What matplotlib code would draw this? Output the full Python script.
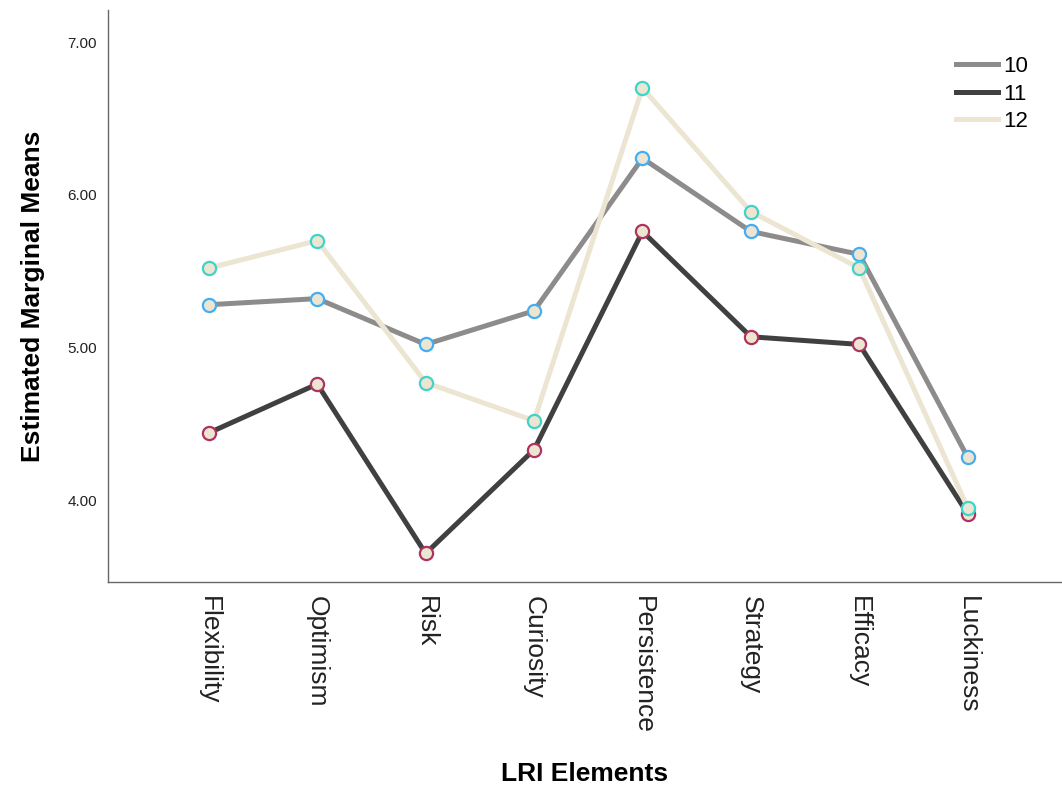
import matplotlib.pyplot as plt

elements = ["Flexibility", "Optimism", "Risk", "Curiosity", "Persistence", "Strategy", "Efficacy", "Luckiness"]
groups = ["10", "11", "12"]
means_10 = [5.28, 5.32, 5.02, 5.24, 6.24, 5.76, 5.61, 4.28]
means_11 = [4.44, 4.76, 3.65, 4.33, 5.76, 5.07, 5.02, 3.91]
means_12 = [5.52, 5.70, 4.77, 4.52, 6.70, 5.89, 5.52, 3.95]

line_colors = ["#8e8b8b", "#404040", "#ebe5d2"]
edge_colors = ["#45aef0", "#b0325f", "#3fd3c9"]

plt.rcParams["font.family"] = ["Liberation Sans", "DejaVu Sans"]

fig = plt.figure(figsize=(10.62, 7.85), dpi=100)
ax = fig.add_axes([0.1017, 0.2586, 0.8983, 0.7284])

x = list(range(len(elements)))
for name, values, lc, ec in zip(groups, [means_10, means_11, means_12], line_colors, edge_colors):
    ax.plot(x, values, color=lc, lw=3.6, label=name, zorder=2)
    ax.plot(x, values, ls="none", marker="o", ms=9.5, mfc="#ebe5d2", mec=ec, mew=1.6, zorder=3)

ax.set_xlim(-0.93, 7.87)
ax.set_ylim(3.463, 7.21)
ax.set_yticks([4, 5, 6, 7])
ax.set_yticklabels(["4.00", "5.00", "6.00", "7.00"], fontsize=11)
ax.set_xticks(x)
ax.set_xticklabels(elements, rotation=270, fontsize=19, va="top", ha="center")
ax.tick_params(length=0, pad=8, colors="#222222")
ax.tick_params(axis="x", pad=10)

for side in ["top", "right"]:
    ax.spines[side].set_visible(False)
for side in ["left", "bottom"]:
    ax.spines[side].set_color("#666666")
    ax.spines[side].set_linewidth(1.0)

ax.set_ylabel("Estimated Marginal Means", fontsize=19, fontweight="bold", labelpad=16)
ax.set_xlabel("LRI Elements", fontsize=19, fontweight="bold", labelpad=20)

ax.legend(loc="upper right", bbox_to_anchor=(0.985, 0.955), frameon=False, fontsize=16,
          handlelength=1.9, handletextpad=0.2, labelspacing=0.3)

fig.savefig("out.png", dpi=100)
